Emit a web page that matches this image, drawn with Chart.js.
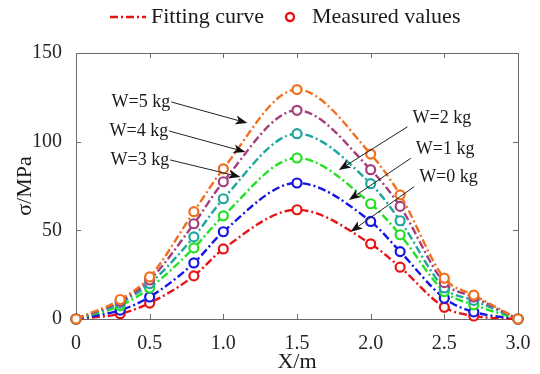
<!DOCTYPE html>
<html>
<head>
<title>Stress along X</title>
<script src="https://cdn.jsdelivr.net/npm/chart.js"></script>
<style>
  body { margin: 0; background: #fff; }
  #chartBox { width: 540px; height: 374px; }
</style>
</head>
<body>
  <div id="chartBox">
    <canvas id="stressChart" width="540" height="374"></canvas>
  </div>

  <script>
    // Measuring positions along the beam (m)
    const positions = [0, 0.3, 0.5, 0.8, 1.0, 1.5, 2.0, 2.2, 2.5, 2.7, 3.0];

    // Measured stress (MPa) for each load
    const w5 = [0, 11, 23.7, 60.5, 84.7, 129.4, 93, 70, 23, 13.5, 0];
    const w4 = [0, 10, 22, 53.7, 77.4, 117.7, 84.2, 63.5, 20.5, 12.4, 0];
    const w3 = [0, 9, 20, 46.3, 67.8, 104.5, 76.3, 55.4, 17.5, 10.5, 0];
    const w2 = [0, 7.5, 17.5, 40.1, 58.2, 90.8, 65, 47.5, 15.5, 8, 0];
    const w1 = [0, 5, 12.4, 31.6, 49.2, 76.7, 55, 38, 11.7, 4, 0];
    const w0 = [0, 3, 9, 24.3, 39.5, 61.6, 42.4, 29.2, 6.6, 1.7, 0];

    const seriesNames = ["W=5 kg", "W=4 kg", "W=3 kg", "W=2 kg", "W=1 kg", "W=0 kg"];
    const seriesValues = [w5, w4, w3, w2, w1, w0];
    const seriesColors = ["#f0701e", "#a23f7c", "#1fa59f", "#22e022", "#1414e6", "#e81414"];

    // Axis ticks
    const xTickValues = [0, 0.5, 1.0, 1.5, 2.0, 2.5, 3.0];
    const xTickLabels = ["0", "0.5", "1.0", "1.5", "2.0", "2.5", "3.0"];
    const yTickValues = [0, 50, 100, 150];
    const yTickLabels = ["0", "50", "100", "150"];

    // Callouts: label, arrow start and arrow tip (data units)
    const callouts = [
      { text: "W=5 kg", from: [0.646, 122.4], to: [1.163, 110.5], side: "left" },
      { text: "W=4 kg", from: [0.633, 106.0], to: [1.150, 94.2], side: "left" },
      { text: "W=3 kg", from: [0.639, 89.7], to: [1.116, 80.1], side: "left" },
      { text: "W=2 kg", from: [2.250, 108.4], to: [1.784, 84.0], side: "right" },
      { text: "W=1 kg", from: [2.272, 90.6], to: [1.852, 67.1], side: "right" },
      { text: "W=0 kg", from: [2.295, 74.6], to: [1.864, 49.2], side: "right" }
    ];

    const serif = '"Liberation Serif", "Times New Roman", serif';
    const dashDot = [8, 3, 2, 3];
    Chart.defaults.font.family = serif;

    // box round the plot with inward ticks on all sides
    const framePlugin = {
      id: "frame",
      beforeDatasetsDraw(chart) {
        const { ctx, chartArea: a, scales: { x, y } } = chart;
        ctx.save();
        ctx.strokeStyle = "#6a6a6a";
        ctx.lineWidth = 1;
        ctx.beginPath();
        ctx.rect(a.left + 0.5, a.top + 0.5, a.right - a.left, a.bottom - a.top);
        x.ticks.forEach(t => {
          const px = Math.round(x.getPixelForValue(t.value)) + 0.5;
          ctx.moveTo(px, a.bottom); ctx.lineTo(px, a.bottom - 5);
          ctx.moveTo(px, a.top); ctx.lineTo(px, a.top + 5);
        });
        y.ticks.forEach(t => {
          const py = Math.round(y.getPixelForValue(t.value)) + 0.5;
          ctx.moveTo(a.left, py); ctx.lineTo(a.left + 5, py);
          ctx.moveTo(a.right, py); ctx.lineTo(a.right - 5, py);
        });
        ctx.stroke();
        ctx.restore();
      }
    };

    // text labels with arrows
    const calloutPlugin = {
      id: "callouts",
      afterDatasetsDraw(chart) {
        const { ctx, scales: { x, y } } = chart;
        ctx.save();
        ctx.font = "18px " + serif;
        ctx.strokeStyle = "#222";
        ctx.lineWidth = 1;
        callouts.forEach(c => {
          const x0 = x.getPixelForValue(c.from[0]), y0 = y.getPixelForValue(c.from[1]);
          const x1 = x.getPixelForValue(c.to[0]), y1 = y.getPixelForValue(c.to[1]);
          const ang = Math.atan2(y1 - y0, x1 - x0);
          const len = 12, half = 4.5;
          const bx = x1 - len * 0.75 * Math.cos(ang), by = y1 - len * 0.75 * Math.sin(ang);
          ctx.beginPath();
          ctx.moveTo(x0, y0);
          ctx.lineTo(bx, by);
          ctx.stroke();
          // arrow head
          const px = -Math.sin(ang), py = Math.cos(ang);
          const rx = x1 - len * Math.cos(ang), ry = y1 - len * Math.sin(ang);
          ctx.beginPath();
          ctx.moveTo(x1, y1);
          ctx.lineTo(rx + half * px, ry + half * py);
          ctx.lineTo(bx, by);
          ctx.lineTo(rx - half * px, ry - half * py);
          ctx.closePath();
          ctx.fillStyle = "#111";
          ctx.fill();
          ctx.fillStyle = "#1a1a1a";
          ctx.textBaseline = "middle";
          if (c.side === "left") {
            ctx.textAlign = "right";
            ctx.fillText(c.text, x0 - 1, y0);
          } else {
            ctx.textAlign = "left";
            ctx.fillText(c.text, x0 + 5, y0 - 9);
          }
        });
        ctx.restore();
      }
    };

    // legend row on top: dash-dot sample and open circle
    const legendPlugin = {
      id: "topLegend",
      afterDraw(chart) {
        const { ctx } = chart;
        const cy = 17;
        ctx.save();
        ctx.strokeStyle = seriesColors[5];
        ctx.lineWidth = 2.4;
        ctx.setLineDash(dashDot);
        ctx.beginPath();
        ctx.moveTo(110, cy); ctx.lineTo(146, cy);
        ctx.stroke();
        ctx.setLineDash([]);
        ctx.beginPath();
        ctx.arc(290, cy, 4, 0, Math.PI * 2);
        ctx.stroke();
        ctx.font = "22px " + serif;
        ctx.fillStyle = "#1a1a1a";
        ctx.textBaseline = "middle";
        ctx.textAlign = "left";
        ctx.fillText("Fitting curve", 151, cy);
        ctx.fillText("Measured values", 312, cy);
        ctx.restore();
      }
    };

    const datasets = seriesNames.map((name, i) => ({
      label: name,
      data: positions.map((p, k) => ({ x: p, y: seriesValues[i][k] })),
      borderColor: seriesColors[i],
      backgroundColor: "#fff",
      borderWidth: 2.4,
      borderDash: dashDot,
      cubicInterpolationMode: "monotone",
      pointRadius: 4.5,
      pointBorderWidth: 2.2,
      pointBackgroundColor: "#fff",
      pointBorderColor: seriesColors[i],
      clip: false
    }));

    new Chart(document.getElementById("stressChart"), {
      type: "line",
      data: { datasets },
      options: {
        responsive: false,
        animation: false,
        layout: { padding: { top: 53, right: 22, left: 0, bottom: 0 } },
        plugins: {
          legend: { display: false },
          tooltip: { enabled: false }
        },
        scales: {
          x: {
            type: "linear",
            min: 0,
            max: 3,
            afterBuildTicks: s => { s.ticks = xTickValues.map(v => ({ value: v })); },
            afterFit: s => { s.height = 55; },
            grid: { display: false },
            border: { display: false },
            ticks: {
              padding: 5,
              color: "#262626",
              font: { size: 20 },
              callback: (v, i) => xTickLabels[i]
            },
            title: {
              display: true,
              text: "X/m",
              color: "#1a1a1a",
              font: { size: 22, lineHeight: 1 },
              padding: { top: 0, bottom: 1 }
            }
          },
          y: {
            min: 0,
            max: 150,
            afterBuildTicks: s => { s.ticks = yTickValues.map(v => ({ value: v })); },
            afterFit: s => { s.width = 76; },
            grid: { display: false },
            border: { display: false },
            ticks: {
              padding: 6,
              color: "#262626",
              font: { size: 20 },
              callback: (v, i) => yTickLabels[i]
            },
            title: {
              display: true,
              text: "σ/MPa",
              color: "#1a1a1a",
              font: { size: 22, lineHeight: 1.2 },
              padding: { top: 12, bottom: 0 }
            }
          }
        }
      },
      plugins: [framePlugin, calloutPlugin, legendPlugin]
    });
  </script>
</body>
</html>
